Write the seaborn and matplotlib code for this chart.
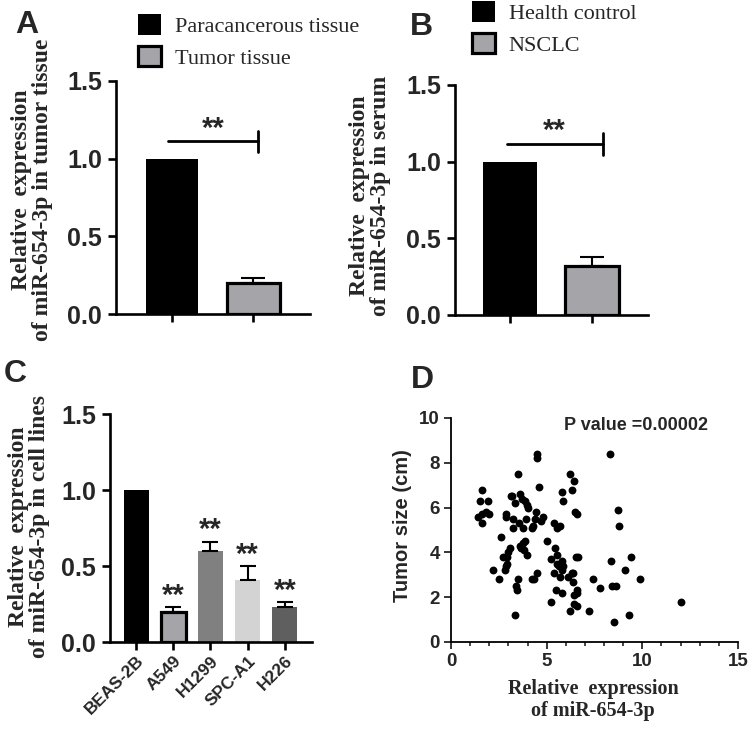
import numpy as np
import pandas as pd
import matplotlib
matplotlib.use("Agg")
import matplotlib.pyplot as plt
from matplotlib.ticker import MultipleLocator
import seaborn as sns

# ---------------- data ----------------
a_groups = ["Paracancerous tissue", "Tumor tissue"]
a_values = [1.0, 0.20]
a_errors = [0.0, 0.03]

b_groups = ["Health control", "NSCLC"]
b_values = [1.0, 0.32]
b_errors = [0.0, 0.06]

c_lines = ["BEAS-2B", "A549", "H1299", "SPC-A1", "H226"]
c_values = [1.0, 0.20, 0.60, 0.41, 0.23]
c_errors = [0.0, 0.03, 0.06, 0.09, 0.03]
c_signif = ["", "**", "**", "**", "**"]

d_expr = [1.41, 1.53, 1.61, 1.61, 1.61, 1.84, 1.93, 2.01, 2.22, 2.52,
          2.62, 2.74, 2.80, 2.85, 2.85, 2.88, 2.92, 2.92, 3.00, 3.09,
          3.14, 3.21, 3.23, 3.26, 3.32, 3.32, 3.40, 3.44, 3.52, 3.52,
          3.58, 3.61, 3.61, 3.66, 3.70, 3.75, 3.78, 3.82, 3.85, 3.87,
          3.94, 3.96, 3.96, 4.05, 4.22, 4.22, 4.31, 4.36, 4.39, 4.43,
          4.48, 4.51, 4.51, 4.62, 4.69, 4.83, 5.00, 5.21, 5.21, 5.38,
          5.42, 5.40, 5.49, 5.52, 5.52, 5.56, 5.63, 5.69, 5.69, 5.78,
          5.78, 5.82, 5.82, 5.83, 5.87, 6.13, 6.22, 6.22, 6.30, 6.34,
          6.39, 6.39, 6.41, 6.41, 6.41, 6.49, 6.53, 6.56, 6.60, 6.61,
          6.61, 6.65, 7.20, 7.40, 7.81, 8.30, 8.38, 8.40, 8.51, 8.61,
          8.73, 8.78, 9.10, 9.31, 9.39, 9.90, 12.0]
d_size = [5.6, 6.3, 6.8, 5.7, 5.3, 5.8, 6.3, 5.7, 3.2, 2.8,
          4.7, 3.8, 3.2, 5.7, 5.6, 3.4, 3.8, 3.5, 4.0, 4.2,
          6.5, 6.5, 5.5, 5.1, 1.2, 6.2, 2.5, 2.3, 2.8, 7.5,
          5.3, 6.6, 4.3, 4.2, 6.4, 5.1, 4.4, 4.1, 4.5, 6.3,
          5.5, 6.1, 3.9, 6.0, 2.8, 5.1, 5.2, 2.8, 5.5, 5.8,
          3.1, 8.4, 8.2, 6.9, 5.4, 5.6, 4.5, 1.8, 3.7, 5.3,
          4.2, 3.1, 2.3, 5.1, 3.9, 3.5, 3.4, 5.2, 2.9, 3.2,
          3.6, 2.2, 6.7, 6.3, 3.4, 2.9, 1.4, 7.5, 3.1, 6.8,
          3.1, 2.7, 7.2, 2.1, 1.7, 5.8, 3.8, 5.7, 2.2, 1.6,
          2.3, 3.8, 1.4, 2.8, 2.4, 8.4, 3.6, 2.5, 0.9, 2.5,
          5.9, 5.2, 3.2, 1.2, 3.8, 2.8, 1.8]
p_value_text = "P value =0.00002"

# ---------------- style ----------------
sns.set_style("ticks")
plt.rcParams["font.family"] = ["Liberation Sans", "DejaVu Sans"]
SERIF = "Liberation Serif"
SANS = "Liberation Sans"
W, H = 750, 731
fig = plt.figure(figsize=(W / 100, H / 100), dpi=100)


def axes_px(left, top, right, bottom):
    return fig.add_axes([left / W, 1 - bottom / H, (right - left) / W, (bottom - top) / H])


def style_bar_axes(ax):
    sns.despine(ax=ax)
    for s in ("left", "bottom"):
        ax.spines[s].set_linewidth(1.9)
        ax.spines[s].set_color("black")
    ax.tick_params(axis="both", width=1.9, length=6, color="black", direction="out")
    ax.tick_params(axis="y", pad=4)
    ax.set_ylim(0, 1.5)
    ax.set_yticks([0.0, 0.5, 1.0, 1.5])
    ax.set_yticklabels(["0.0", "0.5", "1.0", "1.5"], fontsize=18, fontweight="bold", family=SANS)
    ax.set_xlabel("")
    ax.set_ylabel("")


def bars(ax, cats, vals, errs, colors, edge_lw, width, capsize):
    sns.barplot(x=cats, y=vals, hue=cats, order=cats, hue_order=cats, palette=colors,
                dodge=False, legend=False, errorbar=None, width=width, saturation=1,
                ax=ax)
    for p, lw in zip(ax.patches, edge_lw):
        p.set_edgecolor("black")
        p.set_linewidth(lw)
    idx = [i for i, e in enumerate(errs) if e > 0]
    ax.errorbar([i for i in idx], [vals[i] for i in idx],
                yerr=[[0] * len(idx), [errs[i] for i in idx]],
                fmt="none", ecolor="black", elinewidth=1.5, capsize=capsize, capthick=1.5,
                zorder=1)


# ---------------- Panel A ----------------
axA = axes_px(116, 81, 310, 314)
bars(axA, a_groups, a_values, a_errors, ["#000000", "#a5a5a9"], [0, 2.3], 0.65, 8.5)
axA.set_xlim(-0.69, 1.70)
axA.set_xticks([0, 1])
axA.set_xticklabels(["", ""])
style_bar_axes(axA)
axA.plot([-0.05, 1.06], [1.115, 1.115], color="black", lw=2.0)
axA.plot([1.06, 1.06], [1.04, 1.18], color="black", lw=2.0)
axA.text(0.51, 1.19, "**", ha="center", va="center", fontsize=21, fontweight="bold", family=SANS)

# ---------------- Panel B ----------------
axB = axes_px(455, 85, 648, 315)
bars(axB, b_groups, b_values, b_errors, ["#000000", "#a5a5a9"], [0, 2.3], 0.65, 8.5)
axB.set_xlim(-0.67, 1.68)
axB.set_xticks([0, 1])
axB.set_xticklabels(["", ""])
style_bar_axes(axB)
axB.plot([-0.04, 1.13], [1.115, 1.115], color="black", lw=2.0)
axB.plot([1.13, 1.13], [1.045, 1.185], color="black", lw=2.0)
axB.text(0.54, 1.20, "**", ha="center", va="center", fontsize=21, fontweight="bold", family=SANS)

# ---------------- Panel C ----------------
axC = axes_px(110, 414, 312, 642)
bars(axC, c_lines, c_values, c_errors,
     ["#000000", "#a5a5a9", "#808080", "#d3d3d3", "#5f5f5f"],
     [0, 2.3, 0, 0, 0], 0.67, 5.5)
axC.set_xlim(-0.70, 4.73)
style_bar_axes(axC)
axC.set_xticks(range(len(c_lines)))
axC.set_xticklabels(c_lines, rotation=45, ha="right", va="top", rotation_mode="anchor",
                    fontsize=12.5, fontweight="bold", family=SANS)
axC.tick_params(axis="x", pad=2)
for i, s in enumerate(c_signif):
    if s:
        axC.text(i, c_values[i] + c_errors[i] + 0.075, s, ha="center", va="center",
                 fontsize=21, fontweight="bold", family=SANS)

# ---------------- Panel D ----------------
axD = axes_px(451, 418, 738, 642)
df = pd.DataFrame({"expr": d_expr, "size": d_size})
sns.scatterplot(data=df, x="expr", y="size", color="black", s=32, edgecolor="black",
                linewidth=0, ax=axD)
axD.set_xlim(0, 15)
axD.set_ylim(0, 10)
sns.despine(ax=axD)
for s in ("left", "bottom"):
    axD.spines[s].set_linewidth(1.3)
    axD.spines[s].set_color("black")
axD.set_xticks([0, 5, 10, 15])
axD.xaxis.set_minor_locator(MultipleLocator(1))
axD.set_yticks([0, 2, 4, 6, 8, 10])
axD.tick_params(axis="both", which="major", width=1.3, length=5, pad=3)
axD.tick_params(axis="x", which="minor", width=1.2, length=3)
axD.set_xticklabels(["0", "5", "10", "15"], fontsize=13.5, fontweight="bold", family=SANS)
axD.set_yticklabels(["0", "2", "4", "6", "8", "10"], fontsize=13.5, fontweight="bold", family=SANS)
axD.set_ylabel("Tumor size (cm)", fontsize=14.5, fontweight="bold", family=SANS)
axD.yaxis.set_label_coords(-0.17, 0.52)
axD.yaxis.label.set_va("center")
axD.set_xlabel("Relative  expression\nof miR-654-3p", fontsize=14.5, fontweight="bold",
               family=SERIF, linespacing=1.15)
axD.xaxis.set_label_coords(0.495, -0.26)
axD.xaxis.label.set_va("center")
axD.text(0.645, 0.965, p_value_text, transform=axD.transAxes, ha="center", va="center",
         fontsize=13, fontweight="bold", family=SANS)

# ---------------- y labels A/B/C ----------------
def ylab(xpx, ypx, text):
    fig.text(xpx / W, 1 - ypx / H, text, rotation=90, ha="center", va="center",
             multialignment="center", fontsize=17, fontweight="bold", family=SERIF,
             linespacing=1.05)

ylab(32, 190, "Relative  expression\nof miR-654-3p in tumor tissue")
ylab(370, 196, "Relative  expression\nof miR-654-3p in serum")
ylab(29, 527, "Relative  expression\nof miR-654-3p in cell lines")

# ---------------- panel letters ----------------
for lx, ly, letter in [(27, 25, "A"), (421, 27, "B"), (15, 374, "C"), (422, 380, "D")]:
    fig.text(lx / W, 1 - ly / H, letter, ha="center", va="center", fontsize=23,
             fontweight="bold", family=SANS)

# ---------------- legends ----------------
def legend(ax, labels, x, y):
    handles = list(ax.patches[:2])
    fig.legend(handles, labels, loc="upper left", bbox_to_anchor=(x / W, 1 - y / H),
               frameon=False, borderpad=0, borderaxespad=0, handlelength=1.05,
               handleheight=1.05, handletextpad=0.6, labelspacing=0.4,
               prop={"family": SERIF, "size": 16})

legend(axA, a_groups, 138, 14)
legend(axB, b_groups, 472, 1)

fig.savefig("out.png", dpi=100)
